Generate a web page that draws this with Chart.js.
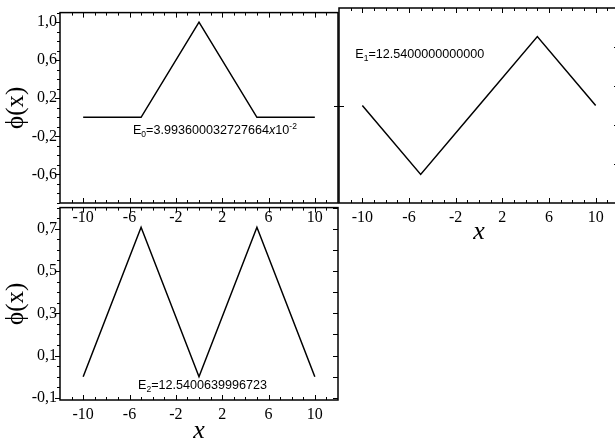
<!DOCTYPE html>
<html>
<head>
<meta charset="utf-8">
<script src="https://cdn.jsdelivr.net/npm/chart.js@4.4.0/dist/chart.umd.min.js"></script>
<style>
  html, body { margin: 0; padding: 0; background: #fff; overflow: hidden; width: 615px; height: 438px; }
  canvas { position: absolute; }
</style>
</head>
<body>
<canvas id="tl" width="345" height="240" style="left:0;top:0"></canvas>
<canvas id="tr" width="300" height="245" style="left:330px;top:0"></canvas>
<canvas id="bl" width="345" height="250" style="left:0;top:195px"></canvas>
<script>
const xValues = [-10, -5, 0, 5, 10];
const phi0 = [0, 0, 1, 0, 0];
const phi1 = [0, -0.707, 0, 0.707, 0];
const phi2 = [0, 0.707, 0, 0.707, 0];
const xTickLabels = [-10, -6, -2, 2, 6, 10];
const yTicksTop = [1.0, 0.6, 0.2, -0.2, -0.6];
const yTicksBottom = [0.7, 0.5, 0.3, 0.1, -0.1];
const energySubs = ['0', '1', '2'];
const energyValues = ['3.993600032727664', '12.5400000000000', '12.5400639996723'];
const energyExps = ['-2', '', ''];

const serif = "'Liberation Serif', 'Times New Roman', 'DejaVu Serif', serif";
const sans = "'Liberation Sans', Arial, sans-serif";

// box round the plot, small inner/outer ticks and the energy label
const frame = {
  id: 'frame',
  afterDatasetsDraw(chart, args, o) {
    const {ctx, chartArea: a, scales: {x, y}} = chart;
    const line = (x1, y1, x2, y2) => { ctx.beginPath(); ctx.moveTo(x1, y1); ctx.lineTo(x2, y2); ctx.stroke(); };
    const near = (v, list) => list.some(t => Math.abs(t - v) < 1e-6);
    const steps = (step) => {
      const out = [];
      const n0 = Math.ceil(y.min / step - 1e-9), n1 = Math.floor(y.max / step + 1e-9);
      for (let i = n0; i <= n1; i++) out.push(i * step);
      return out;
    };
    ctx.save();
    ctx.strokeStyle = '#000';
    ctx.lineWidth = 1;
    for (let v = Math.ceil(x.min) + 1; v < x.max; v++) {
      const px = Math.round(x.getPixelForValue(v)) + 0.5;
      const len = near(v, xTickLabels) ? 5 : 3;
      line(px, a.bottom, px, a.bottom - len);
      line(px, a.top, px, a.top + len);
    }
    if (o.leftStep) {
      steps(o.leftStep).forEach(v => {
        const py = Math.round(y.getPixelForValue(v)) + 0.5;
        line(a.left, py, a.left - (near(v, o.majors) ? 5 : 3), py);
      });
    }
    (o.leftInner || []).forEach(v => {
      const py = Math.round(y.getPixelForValue(v)) + 0.5;
      line(a.left - 5, py, a.left + 5, py);
    });
    const right = o.rightStep ? steps(o.rightStep) : (o.rightTicks || []);
    right.forEach(v => {
      const py = Math.round(y.getPixelForValue(v)) + 0.5;
      line(a.right, py, a.right - 5, py);
    });
    ctx.lineWidth = 1.5;
    ctx.strokeRect(a.left, a.top, a.right - a.left, a.bottom - a.top);

    const i = o.energy;
    let cx = x.getPixelForValue(o.labelAt[0]);
    const by = y.getPixelForValue(o.labelAt[1]);
    const big = '12.6px ' + sans, small = '8.5px ' + sans;
    const runs = [['E', big, 0], [energySubs[i], small, 3], ['=' + energyValues[i], big, 0]];
    if (energyExps[i]) runs.push(['x', 'italic ' + big, 0], ['10', big, 0], [energyExps[i], small, -5]);
    ctx.fillStyle = '#000';
    ctx.textBaseline = 'alphabetic';
    ctx.textAlign = 'left';
    runs.forEach(([t, f, dy]) => {
      ctx.font = f;
      ctx.fillText(t, cx, by + dy);
      cx += ctx.measureText(t).width;
    });
    ctx.restore();
  }
};

function panel(id, ys, yMin, yMax, yTicks, o) {
  return new Chart(document.getElementById(id), {
    type: 'line',
    data: {
      datasets: [{
        data: xValues.map((v, i) => ({x: v, y: ys[i]})),
        borderColor: '#000',
        borderWidth: 1.5,
        pointRadius: 0,
        tension: 0
      }]
    },
    options: {
      responsive: false,
      animation: false,
      layout: {padding: {top: 8, right: o.padRight, left: 0, bottom: 0}},
      plugins: {legend: {display: false}, tooltip: {enabled: false}, frame: o.frame},
      scales: {
        x: {
          type: 'linear', min: -12, max: 12,
          grid: {display: false, drawTicks: false},
          border: {display: false},
          afterBuildTicks: s => { s.ticks = xTickLabels.map(v => ({value: v})); },
          afterFit: s => { s.height = o.xh; },
          ticks: {color: '#000', font: {family: serif, size: 16}, padding: 5, maxRotation: 0, autoSkip: false,
                  callback: v => String(v)},
          title: {display: o.xTitle, text: 'x', color: '#000',
                  font: {family: serif, size: 26, style: 'italic', lineHeight: 1},
                  padding: {top: 0, bottom: o.xtPad}}
        },
        y: {
          type: 'linear', min: yMin, max: yMax,
          grid: {display: false, drawTicks: false},
          border: {display: false},
          afterBuildTicks: s => { s.ticks = yTicks.map(v => ({value: v})); },
          afterFit: s => { s.width = o.yw; },
          ticks: {display: yTicks.length > 0, color: '#000', font: {family: serif, size: 16}, padding: 3,
                  callback: v => v.toFixed(1).replace('.', ',')},
          title: {display: o.yTitle, text: 'ϕ(x)', color: '#000',
                  font: {family: serif, size: 25, lineHeight: 1},
                  padding: {top: 4, bottom: 0}}
        }
      }
    },
    plugins: [frame]
  });
}

panel('tl', phi0, -0.9, 1.1, yTicksTop, {
  padRight: 7, xh: 37, yw: 60, xTitle: false, yTitle: true, xtPad: 0,
  frame: {leftStep: 0.1, majors: yTicksTop, energy: 0, labelAt: [-5.7, -0.18]}
});
panel('tr', phi1, -1, 1, [], {
  padRight: 11, xh: 42, yw: 9, xTitle: true, yTitle: false, xtPad: 0,
  frame: {leftInner: [0], rightTicks: [-0.6, -0.2, 0.2, 0.6], energy: 1, labelAt: [-10.6, 0.49]}
});
panel('bl', phi2, -0.11, 0.8, yTicksBottom, {
  padRight: 7, xh: 45, yw: 60, xTitle: true, yTitle: true, xtPad: 1,
  frame: {leftStep: 0.05, majors: yTicksBottom, rightStep: 0.1, energy: 2, labelAt: [-5.26, -0.06]}
});
</script>
</body>
</html>
